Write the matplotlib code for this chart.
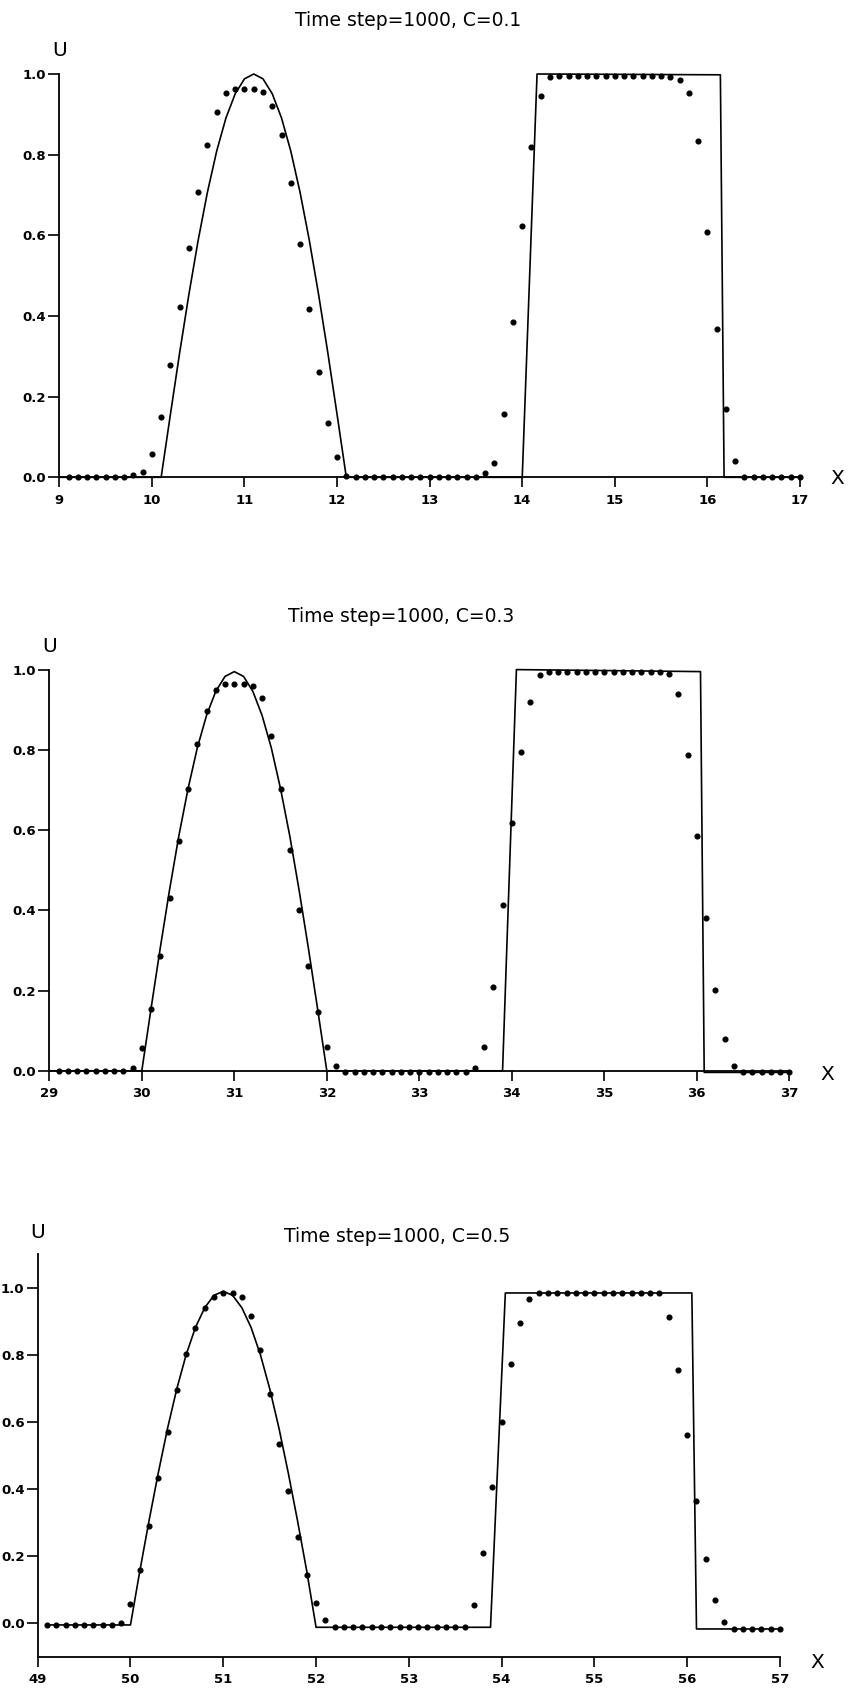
import numpy as np
import matplotlib
matplotlib.use('Agg')
import matplotlib.pyplot as plt

# numerical solution, one dot every 0.1 in x
dots_x1 = np.round(np.arange(9.1, 17.01, 0.1), 1)
dots_y1 = [
    0, 0, 0, 0, 0, 0, 0, 0.005, 0.014,
    0.058, 0.150, 0.279, 0.422, 0.568, 0.707, 0.825, 0.907, 0.953, 0.963,
    0.963, 0.962, 0.955, 0.920, 0.848, 0.730, 0.578, 0.417, 0.262, 0.135,
    0.050, 0.004, 0, 0, 0, 0, 0, 0, 0, 0,
    0, 0, 0, 0, 0, 0, 0.010, 0.035, 0.156, 0.384,
    0.622, 0.820, 0.945, 0.992, 0.995, 0.995, 0.995, 0.995, 0.995, 0.995,
    0.995, 0.995, 0.995, 0.995, 0.995, 0.995, 0.993, 0.985, 0.954, 0.833,
    0.607, 0.367, 0.169, 0.041, 0, 0, 0, 0, 0, 0,
    0]

dots_x2 = np.round(np.arange(29.1, 37.01, 0.1), 1)
dots_y2 = [
    0, 0, 0, 0, 0, 0, 0, 0, 0.006,
    0.056, 0.153, 0.286, 0.430, 0.573, 0.703, 0.815, 0.896, 0.949, 0.964,
    0.964, 0.964, 0.960, 0.928, 0.835, 0.703, 0.551, 0.400, 0.260, 0.146,
    0.060, 0.011, -0.003, -0.003, -0.003, -0.003, -0.003, -0.003, -0.003, -0.003,
    -0.003, -0.003, -0.003, -0.003, -0.003, -0.003, 0.006, 0.059, 0.210, 0.413,
    0.617, 0.794, 0.918, 0.986, 0.993, 0.993, 0.993, 0.993, 0.993, 0.993,
    0.993, 0.993, 0.993, 0.993, 0.993, 0.993, 0.993, 0.990, 0.940, 0.788,
    0.584, 0.380, 0.202, 0.080, 0.013, -0.004, -0.004, -0.004, -0.004, -0.004,
    -0.004]

dots_x3 = np.round(np.arange(49.1, 57.01, 0.1), 1)
dots_y3 = [
    -0.004, -0.004, -0.004, -0.004, -0.004, -0.004, -0.004, -0.004, 0.002,
    0.056, 0.160, 0.289, 0.432, 0.570, 0.696, 0.802, 0.882, 0.939, 0.972,
    0.985, 0.985, 0.974, 0.915, 0.816, 0.683, 0.536, 0.393, 0.258, 0.145,
    0.061, 0.010, -0.010, -0.010, -0.010, -0.010, -0.010, -0.010, -0.010, -0.010,
    -0.012, -0.012, -0.012, -0.012, -0.012, -0.012, -0.012, 0.055, 0.209, 0.406,
    0.601, 0.772, 0.896, 0.967, 0.985, 0.985, 0.985, 0.985, 0.985, 0.985,
    0.985, 0.985, 0.985, 0.985, 0.985, 0.985, 0.985, 0.985, 0.913, 0.756,
    0.560, 0.365, 0.193, 0.069, 0.005, -0.016, -0.016, -0.016, -0.016, -0.016,
    -0.016]

# exact solution (solid line)
line_x1 = [9.0, 10.1, 10.2, 10.3, 10.4, 10.5, 10.6, 10.7, 10.8, 10.9, 11.0, 11.1,
           11.2, 11.3, 11.4, 11.5, 11.6, 11.7, 11.8, 11.9, 12.0, 12.1,
           14.0, 14.16, 16.14, 16.18, 17.0]
line_y1 = [0, 0, 0.156, 0.309, 0.454, 0.588, 0.707, 0.809, 0.891, 0.951, 0.988, 1.0,
           0.988, 0.951, 0.891, 0.809, 0.707, 0.588, 0.454, 0.309, 0.156, 0,
           0, 1.0, 0.998, 0, 0]

line_x2 = [29.0, 30.0, 30.1, 30.2, 30.3, 30.4, 30.5, 30.6, 30.7, 30.8, 30.9, 31.0,
           31.1, 31.2, 31.3, 31.4, 31.5, 31.6, 31.7, 31.8, 31.9, 32.0,
           33.9, 34.05, 36.04, 36.08, 37.0]
line_y2 = [0, 0, 0.155, 0.307, 0.451, 0.585, 0.703, 0.805, 0.886, 0.946, 0.983, 0.995,
           0.983, 0.946, 0.886, 0.805, 0.703, 0.585, 0.451, 0.307, 0.155, 0,
           0, 1.0, 0.995, -0.004, -0.004]

line_x3 = [49.1, 50.0, 50.1, 50.2, 50.3, 50.4, 50.5, 50.6, 50.7, 50.8, 50.9, 51.0,
           51.1, 51.2, 51.3, 51.4, 51.5, 51.6, 51.7, 51.8, 51.9, 52.0,
           53.88, 54.04, 56.05, 56.1, 57.0]
line_y3 = [-0.005, -0.005, 0.155, 0.306, 0.449, 0.582, 0.700, 0.801, 0.882, 0.941, 0.978, 0.990,
           0.978, 0.941, 0.882, 0.801, 0.700, 0.582, 0.449, 0.306, 0.155, -0.012,
           -0.012, 0.985, 0.985, -0.017, -0.017]

titles = ['Time step=1000, C=0.1', 'Time step=1000, C=0.3', 'Time step=1000, C=0.5']
y_ticks = [0.0, 0.2, 0.4, 0.6, 0.8, 1.0]

W, H = 848, 1698
fig = plt.figure(figsize=(W / 100, H / 100), dpi=100)


def fx(x):
    return x / W


def fy(y):
    return 1 - y / H


def panel(left, right, top, bottom, xlim, ylim, lx, ly, dx, dy, title, title_pos, u_pos, x_pos):
    ax = fig.add_axes([fx(left), fy(bottom), (right - left) / W, (bottom - top) / H])
    ax.plot(lx, ly, color='black', lw=1.2, clip_on=False)
    ax.plot(dx, dy, 'o', color='black', ms=3.4, clip_on=False)
    ax.set_xlim(xlim)
    ax.set_ylim(ylim)
    ax.spines['top'].set_visible(False)
    ax.spines['right'].set_visible(False)
    ax.spines['left'].set_linewidth(1.3)
    ax.spines['bottom'].set_linewidth(1.3)
    ax.set_xticks(range(int(xlim[0]), int(xlim[1]) + 1))
    ax.set_yticks(y_ticks)
    ax.set_yticklabels(['%.1f' % v for v in y_ticks])
    ax.tick_params(axis='x', direction='out', length=7, width=1.2, pad=5, labelsize=9.5)
    ax.tick_params(axis='y', direction='out', length=8, width=1.2, pad=1.5, labelsize=9.5)
    for lbl in ax.get_xticklabels() + ax.get_yticklabels():
        lbl.set_fontweight('bold')
    fig.text(fx(title_pos[0]), fy(title_pos[1]), title, ha='center', va='center', fontsize=13.5)
    fig.text(fx(u_pos[0]), fy(u_pos[1]), 'U', ha='center', va='center', fontsize=14.5)
    fig.text(fx(x_pos[0]), fy(x_pos[1]), 'X', ha='center', va='center', fontsize=14.5)
    return ax


panel(59.3, 800, 74, 477.3, (9, 17), (0, 1.0), line_x1, line_y1, dots_x1, dots_y1,
      titles[0], (408, 20), (60, 50), (837, 479))
panel(49.3, 789.3, 669.6, 1070.8, (29, 37), (0, 1.0), line_x2, line_y2, dots_x2, dots_y2,
      titles[1], (401, 617), (50, 646), (827, 1075))
panel(37.7, 780, 1254.4, 1656.8, (49, 57), (-0.1, 1.1), line_x3, line_y3, dots_x3, dots_y3,
      titles[2], (397, 1236), (38, 1232), (817, 1663))

fig.savefig('out.png', dpi=100)
